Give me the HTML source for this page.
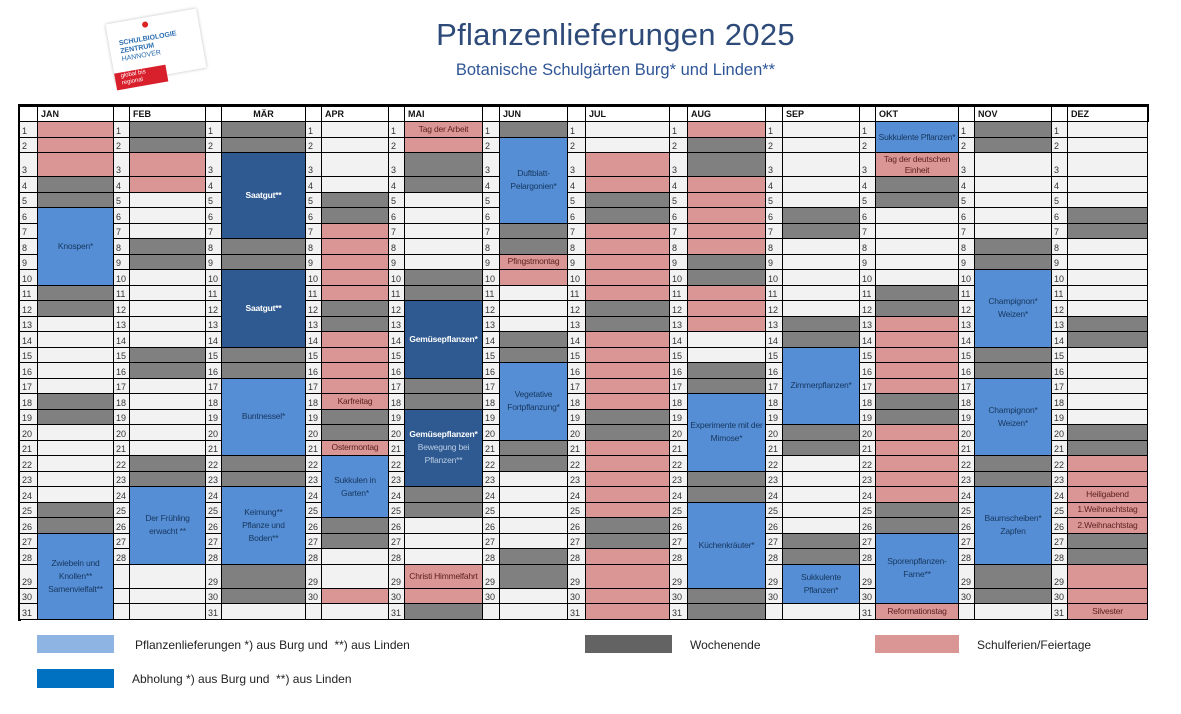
<!DOCTYPE html>
<html><head><meta charset="utf-8">
<style>
*{margin:0;padding:0;box-sizing:border-box}
body{width:1181px;height:714px;background:#fff;position:relative;overflow:hidden;font-family:"Liberation Sans",sans-serif}
.title{position:absolute;left:0;width:1231px;top:17px;text-align:center;font-size:31px;color:#2d4a78;letter-spacing:0.3px}
.sub{position:absolute;left:0;width:1231px;top:61px;text-align:center;font-size:16.5px;color:#2f5597}
.grid{position:absolute;left:20px;top:107px;display:grid;grid-auto-flow:column;
grid-template-columns:18px 76px 16px 76px 16px 84px 16px 67px 16px 78px 17px 68px 18px 84px 18px 78px 17px 77px 16px 83px 16px 77px 16px 80px;
grid-template-rows:15px 15.5px 15.5px 24px repeat(25,15.5px) 24px 15.5px 16px;}
.grid i,.grid b{display:flex;font-style:normal;border-right:1px solid #000;border-bottom:1px solid #000;font-size:9px;overflow:hidden}
.n{background:#f2f2f2;color:#333;align-items:flex-end;padding-left:2px;padding-bottom:1px}
.h{background:#fff;font-weight:bold;font-size:10px;align-items:center;padding-left:3px;color:#111}
.hn{background:#fff}
.w{background:#f2f2f2}
.g{background:#808080}
.p,.b,.d{white-space:nowrap;letter-spacing:-0.2px;font-size:8.5px !important}
.p{background:#da9694;color:#5b1f1f;align-items:center;justify-content:center;text-align:center;line-height:11px}
.b{background:#558ed5;color:#17375e;align-items:center;justify-content:center;text-align:center;line-height:13px}
.d{background:#2f5a91;color:#fff;font-weight:bold;align-items:center;justify-content:center;text-align:center;line-height:13px}
.s5{grid-row:span 5}.s4{grid-row:span 4}.s2{grid-row:span 2}
.leg{position:absolute;font-size:12px;color:#222}
</style></head><body>
<div style="position:absolute;left:110px;top:16px;width:92px;height:60px;background:#fff;box-shadow:0 0 3px #bbb;transform:rotate(-10deg)">
<div style="position:absolute;left:10px;top:18px;font-size:7px;font-weight:bold;color:#2a6db0;line-height:8px">SCHULBIOLOGIE<br>ZENTRUM<br><span style="font-weight:normal">HANNOVER</span></div>
<div style="position:absolute;left:36px;top:4px;width:6px;height:6px;border-radius:3px;background:#d22"></div>
<div style="position:absolute;left:0px;top:50px;width:52px;height:17px;background:#d8202c;color:#fff;font-size:6px;padding:1px 6px;line-height:7px">global bis<br>regional</div>
</div>
<div class="title">Pflanzenlieferungen 2025</div>
<div class="sub">Botanische Schulgärten Burg* und Linden**</div>
<div style="position:absolute;left:19px;top:104px;width:1130px;height:3px;background:#000"></div>
<div style="position:absolute;left:18px;top:104px;width:3px;height:517px;background:#000"></div>
<div style="position:absolute;left:1146px;top:104px;width:3px;height:18px;background:#000"></div>
<div class="grid">
<!-- JAN -->
<b class="hn"></b><i class="n">1</i><i class="n">2</i><i class="n">3</i><i class="n">4</i><i class="n">5</i><i class="n">6</i><i class="n">7</i><i class="n">8</i><i class="n">9</i><i class="n">10</i><i class="n">11</i><i class="n">12</i><i class="n">13</i><i class="n">14</i><i class="n">15</i><i class="n">16</i><i class="n">17</i><i class="n">18</i><i class="n">19</i><i class="n">20</i><i class="n">21</i><i class="n">22</i><i class="n">23</i><i class="n">24</i><i class="n">25</i><i class="n">26</i><i class="n">27</i><i class="n">28</i><i class="n">29</i><i class="n">30</i><i class="n">31</i>
<b class="h">JAN</b><i class="p"></i><i class="p"></i><i class="p"></i><i class="g"></i><i class="g"></i><i class="b s5">Knospen*</i><i class="g"></i><i class="g"></i><i class="w"></i><i class="w"></i><i class="w"></i><i class="w"></i><i class="w"></i><i class="g"></i><i class="g"></i><i class="w"></i><i class="w"></i><i class="w"></i><i class="w"></i><i class="w"></i><i class="g"></i><i class="g"></i><i class="b s5">Zwiebeln und<br>Knollen**<br>Samenvielfalt**</i>
<!-- FEB -->
<b class="hn"></b><i class="n">1</i><i class="n">2</i><i class="n">3</i><i class="n">4</i><i class="n">5</i><i class="n">6</i><i class="n">7</i><i class="n">8</i><i class="n">9</i><i class="n">10</i><i class="n">11</i><i class="n">12</i><i class="n">13</i><i class="n">14</i><i class="n">15</i><i class="n">16</i><i class="n">17</i><i class="n">18</i><i class="n">19</i><i class="n">20</i><i class="n">21</i><i class="n">22</i><i class="n">23</i><i class="n">24</i><i class="n">25</i><i class="n">26</i><i class="n">27</i><i class="n">28</i><i class="n"></i><i class="n"></i><i class="n"></i>
<b class="h">FEB</b><i class="g"></i><i class="g"></i><i class="p"></i><i class="p"></i><i class="w"></i><i class="w"></i><i class="w"></i><i class="g"></i><i class="g"></i><i class="w"></i><i class="w"></i><i class="w"></i><i class="w"></i><i class="w"></i><i class="g"></i><i class="g"></i><i class="w"></i><i class="w"></i><i class="w"></i><i class="w"></i><i class="w"></i><i class="g"></i><i class="g"></i><i class="b s5">Der Frühling<br>erwacht **</i><i class="w"></i><i class="w"></i><i class="w"></i>
<!-- MAR -->
<b class="hn"></b><i class="n">1</i><i class="n">2</i><i class="n">3</i><i class="n">4</i><i class="n">5</i><i class="n">6</i><i class="n">7</i><i class="n">8</i><i class="n">9</i><i class="n">10</i><i class="n">11</i><i class="n">12</i><i class="n">13</i><i class="n">14</i><i class="n">15</i><i class="n">16</i><i class="n">17</i><i class="n">18</i><i class="n">19</i><i class="n">20</i><i class="n">21</i><i class="n">22</i><i class="n">23</i><i class="n">24</i><i class="n">25</i><i class="n">26</i><i class="n">27</i><i class="n">28</i><i class="n">29</i><i class="n">30</i><i class="n">31</i>
<b class="h" style="justify-content:center;padding:0">MÄR</b><i class="g"></i><i class="g"></i><i class="d s5">Saatgut**</i><i class="g"></i><i class="g"></i><i class="d s5">Saatgut**</i><i class="g"></i><i class="g"></i><i class="b s5">Buntnessel*</i><i class="g"></i><i class="g"></i><i class="b s5">Keimung**<br>Pflanze und<br>Boden**</i><i class="g"></i><i class="g"></i><i class="w"></i>
<!-- APR -->
<b class="hn"></b><i class="n">1</i><i class="n">2</i><i class="n">3</i><i class="n">4</i><i class="n">5</i><i class="n">6</i><i class="n">7</i><i class="n">8</i><i class="n">9</i><i class="n">10</i><i class="n">11</i><i class="n">12</i><i class="n">13</i><i class="n">14</i><i class="n">15</i><i class="n">16</i><i class="n">17</i><i class="n">18</i><i class="n">19</i><i class="n">20</i><i class="n">21</i><i class="n">22</i><i class="n">23</i><i class="n">24</i><i class="n">25</i><i class="n">26</i><i class="n">27</i><i class="n">28</i><i class="n">29</i><i class="n">30</i><i class="n"></i>
<b class="h">APR</b><i class="w"></i><i class="w"></i><i class="w"></i><i class="w"></i><i class="g"></i><i class="g"></i><i class="p"></i><i class="p"></i><i class="p"></i><i class="p"></i><i class="p"></i><i class="g"></i><i class="g"></i><i class="p"></i><i class="p"></i><i class="p"></i><i class="p"></i><i class="p">Karfreitag</i><i class="g"></i><i class="g"></i><i class="p">Ostermontag</i><i class="b s4">Sukkulen in<br>Garten*</i><i class="g"></i><i class="g"></i><i class="w"></i><i class="w"></i><i class="p"></i><i class="w"></i>
<!-- MAI -->
<b class="hn"></b><i class="n">1</i><i class="n">2</i><i class="n">3</i><i class="n">4</i><i class="n">5</i><i class="n">6</i><i class="n">7</i><i class="n">8</i><i class="n">9</i><i class="n">10</i><i class="n">11</i><i class="n">12</i><i class="n">13</i><i class="n">14</i><i class="n">15</i><i class="n">16</i><i class="n">17</i><i class="n">18</i><i class="n">19</i><i class="n">20</i><i class="n">21</i><i class="n">22</i><i class="n">23</i><i class="n">24</i><i class="n">25</i><i class="n">26</i><i class="n">27</i><i class="n">28</i><i class="n">29</i><i class="n">30</i><i class="n">31</i>
<b class="h">MAI</b><i class="p">Tag der Arbeit</i><i class="p"></i><i class="g"></i><i class="g"></i><i class="w"></i><i class="w"></i><i class="w"></i><i class="w"></i><i class="w"></i><i class="g"></i><i class="g"></i><i class="d s5">Gemüsepflanzen*</i><i class="g"></i><i class="g"></i><i class="d s5" style="flex-direction:column">Gemüsepflanzen*<span style="font-weight:normal;color:#b8cce4">Bewegung bei<br>Pflanzen**</span></i><i class="g"></i><i class="g"></i><i class="w"></i><i class="w"></i><i class="w"></i><i class="p">Christi Himmelfahrt</i><i class="p"></i><i class="g"></i>
<!-- JUN -->
<b class="hn"></b><i class="n">1</i><i class="n">2</i><i class="n">3</i><i class="n">4</i><i class="n">5</i><i class="n">6</i><i class="n">7</i><i class="n">8</i><i class="n">9</i><i class="n">10</i><i class="n">11</i><i class="n">12</i><i class="n">13</i><i class="n">14</i><i class="n">15</i><i class="n">16</i><i class="n">17</i><i class="n">18</i><i class="n">19</i><i class="n">20</i><i class="n">21</i><i class="n">22</i><i class="n">23</i><i class="n">24</i><i class="n">25</i><i class="n">26</i><i class="n">27</i><i class="n">28</i><i class="n">29</i><i class="n">30</i><i class="n"></i>
<b class="h">JUN</b><i class="g"></i><i class="b s5">Duftblatt-<br>Pelargonien*</i><i class="g"></i><i class="g"></i><i class="p">Pfingstmontag</i><i class="p"></i><i class="w"></i><i class="w"></i><i class="w"></i><i class="g"></i><i class="g"></i><i class="b s5">Vegetative<br>Fortpflanzung*</i><i class="g"></i><i class="g"></i><i class="w"></i><i class="w"></i><i class="w"></i><i class="w"></i><i class="w"></i><i class="g"></i><i class="g"></i><i class="w"></i><i class="w"></i>
<!-- JUL -->
<b class="hn"></b><i class="n">1</i><i class="n">2</i><i class="n">3</i><i class="n">4</i><i class="n">5</i><i class="n">6</i><i class="n">7</i><i class="n">8</i><i class="n">9</i><i class="n">10</i><i class="n">11</i><i class="n">12</i><i class="n">13</i><i class="n">14</i><i class="n">15</i><i class="n">16</i><i class="n">17</i><i class="n">18</i><i class="n">19</i><i class="n">20</i><i class="n">21</i><i class="n">22</i><i class="n">23</i><i class="n">24</i><i class="n">25</i><i class="n">26</i><i class="n">27</i><i class="n">28</i><i class="n">29</i><i class="n">30</i><i class="n">31</i>
<b class="h">JUL</b><i class="w"></i><i class="w"></i><i class="p"></i><i class="p"></i><i class="g"></i><i class="g"></i><i class="p"></i><i class="p"></i><i class="p"></i><i class="p"></i><i class="p"></i><i class="g"></i><i class="g"></i><i class="p"></i><i class="p"></i><i class="p"></i><i class="p"></i><i class="p"></i><i class="g"></i><i class="g"></i><i class="p"></i><i class="p"></i><i class="p"></i><i class="p"></i><i class="p"></i><i class="g"></i><i class="g"></i><i class="p"></i><i class="p"></i><i class="p"></i><i class="p"></i>
<!-- AUG -->
<b class="hn"></b><i class="n">1</i><i class="n">2</i><i class="n">3</i><i class="n">4</i><i class="n">5</i><i class="n">6</i><i class="n">7</i><i class="n">8</i><i class="n">9</i><i class="n">10</i><i class="n">11</i><i class="n">12</i><i class="n">13</i><i class="n">14</i><i class="n">15</i><i class="n">16</i><i class="n">17</i><i class="n">18</i><i class="n">19</i><i class="n">20</i><i class="n">21</i><i class="n">22</i><i class="n">23</i><i class="n">24</i><i class="n">25</i><i class="n">26</i><i class="n">27</i><i class="n">28</i><i class="n">29</i><i class="n">30</i><i class="n">31</i>
<b class="h">AUG</b><i class="p"></i><i class="g"></i><i class="g"></i><i class="p"></i><i class="p"></i><i class="p"></i><i class="p"></i><i class="p"></i><i class="g"></i><i class="g"></i><i class="p"></i><i class="p"></i><i class="p"></i><i class="w"></i><i class="w"></i><i class="g"></i><i class="g"></i><i class="b s5">Experimente mit der<br>Mimose*</i><i class="g"></i><i class="g"></i><i class="b s5">Küchenkräuter*</i><i class="g"></i><i class="g"></i>
<!-- SEP -->
<b class="hn"></b><i class="n">1</i><i class="n">2</i><i class="n">3</i><i class="n">4</i><i class="n">5</i><i class="n">6</i><i class="n">7</i><i class="n">8</i><i class="n">9</i><i class="n">10</i><i class="n">11</i><i class="n">12</i><i class="n">13</i><i class="n">14</i><i class="n">15</i><i class="n">16</i><i class="n">17</i><i class="n">18</i><i class="n">19</i><i class="n">20</i><i class="n">21</i><i class="n">22</i><i class="n">23</i><i class="n">24</i><i class="n">25</i><i class="n">26</i><i class="n">27</i><i class="n">28</i><i class="n">29</i><i class="n">30</i><i class="n"></i>
<b class="h">SEP</b><i class="w"></i><i class="w"></i><i class="w"></i><i class="w"></i><i class="w"></i><i class="g"></i><i class="g"></i><i class="w"></i><i class="w"></i><i class="w"></i><i class="w"></i><i class="w"></i><i class="g"></i><i class="g"></i><i class="b s5">Zimmerpflanzen*</i><i class="g"></i><i class="g"></i><i class="w"></i><i class="w"></i><i class="w"></i><i class="w"></i><i class="w"></i><i class="g"></i><i class="g"></i><i class="b s2">Sukkulente<br>Pflanzen*</i><i class="w"></i>
<!-- OKT -->
<b class="hn"></b><i class="n">1</i><i class="n">2</i><i class="n">3</i><i class="n">4</i><i class="n">5</i><i class="n">6</i><i class="n">7</i><i class="n">8</i><i class="n">9</i><i class="n">10</i><i class="n">11</i><i class="n">12</i><i class="n">13</i><i class="n">14</i><i class="n">15</i><i class="n">16</i><i class="n">17</i><i class="n">18</i><i class="n">19</i><i class="n">20</i><i class="n">21</i><i class="n">22</i><i class="n">23</i><i class="n">24</i><i class="n">25</i><i class="n">26</i><i class="n">27</i><i class="n">28</i><i class="n">29</i><i class="n">30</i><i class="n">31</i>
<b class="h">OKT</b><i class="b s2">Sukkulente Pflanzen*</i><i class="p">Tag der deutschen<br>Einheit</i><i class="g"></i><i class="g"></i><i class="w"></i><i class="w"></i><i class="w"></i><i class="w"></i><i class="w"></i><i class="g"></i><i class="g"></i><i class="p"></i><i class="p"></i><i class="p"></i><i class="p"></i><i class="p"></i><i class="g"></i><i class="g"></i><i class="p"></i><i class="p"></i><i class="p"></i><i class="p"></i><i class="p"></i><i class="g"></i><i class="g"></i><i class="b s4">Sporenpflanzen-<br>Farne**</i><i class="p">Reformationstag</i>
<!-- NOV -->
<b class="hn"></b><i class="n">1</i><i class="n">2</i><i class="n">3</i><i class="n">4</i><i class="n">5</i><i class="n">6</i><i class="n">7</i><i class="n">8</i><i class="n">9</i><i class="n">10</i><i class="n">11</i><i class="n">12</i><i class="n">13</i><i class="n">14</i><i class="n">15</i><i class="n">16</i><i class="n">17</i><i class="n">18</i><i class="n">19</i><i class="n">20</i><i class="n">21</i><i class="n">22</i><i class="n">23</i><i class="n">24</i><i class="n">25</i><i class="n">26</i><i class="n">27</i><i class="n">28</i><i class="n">29</i><i class="n">30</i><i class="n"></i>
<b class="h">NOV</b><i class="g"></i><i class="g"></i><i class="w"></i><i class="w"></i><i class="w"></i><i class="w"></i><i class="w"></i><i class="g"></i><i class="g"></i><i class="b s5">Champignon*<br>Weizen*</i><i class="g"></i><i class="g"></i><i class="b s5">Champignon*<br>Weizen*</i><i class="g"></i><i class="g"></i><i class="b s5">Baumscheiben*<br>Zapfen</i><i class="g"></i><i class="g"></i><i class="w"></i>
<!-- DEZ -->
<b class="hn"></b><i class="n">1</i><i class="n">2</i><i class="n">3</i><i class="n">4</i><i class="n">5</i><i class="n">6</i><i class="n">7</i><i class="n">8</i><i class="n">9</i><i class="n">10</i><i class="n">11</i><i class="n">12</i><i class="n">13</i><i class="n">14</i><i class="n">15</i><i class="n">16</i><i class="n">17</i><i class="n">18</i><i class="n">19</i><i class="n">20</i><i class="n">21</i><i class="n">22</i><i class="n">23</i><i class="n">24</i><i class="n">25</i><i class="n">26</i><i class="n">27</i><i class="n">28</i><i class="n">29</i><i class="n">30</i><i class="n">31</i>
<b class="h">DEZ</b><i class="w"></i><i class="w"></i><i class="w"></i><i class="w"></i><i class="w"></i><i class="g"></i><i class="g"></i><i class="w"></i><i class="w"></i><i class="w"></i><i class="w"></i><i class="w"></i><i class="g"></i><i class="g"></i><i class="w"></i><i class="w"></i><i class="w"></i><i class="w"></i><i class="w"></i><i class="g"></i><i class="g"></i><i class="p"></i><i class="p"></i><i class="p">Heiligabend</i><i class="p">1.Weihnachtstag</i><i class="p">2.Weihnachtstag</i><i class="g"></i><i class="g"></i><i class="p"></i><i class="p"></i><i class="p">Silvester</i>
</div>
<div style="position:absolute;left:37px;top:635px;width:77px;height:18px;background:#8eb4e3"></div>
<div class="leg" style="left:135px;top:638px">Pflanzenlieferungen *) aus Burg und &nbsp;**) aus Linden</div>
<div style="position:absolute;left:585px;top:635px;width:87px;height:18px;background:#636363"></div>
<div class="leg" style="left:690px;top:638px">Wochenende</div>
<div style="position:absolute;left:875px;top:635px;width:84px;height:18px;background:#da9694"></div>
<div class="leg" style="left:977px;top:638px">Schulferien/Feiertage</div>
<div style="position:absolute;left:37px;top:669px;width:77px;height:19px;background:#0070c0"></div>
<div class="leg" style="left:132px;top:672px">Abholung *) aus Burg und &nbsp;**) aus Linden</div>
</body></html>
